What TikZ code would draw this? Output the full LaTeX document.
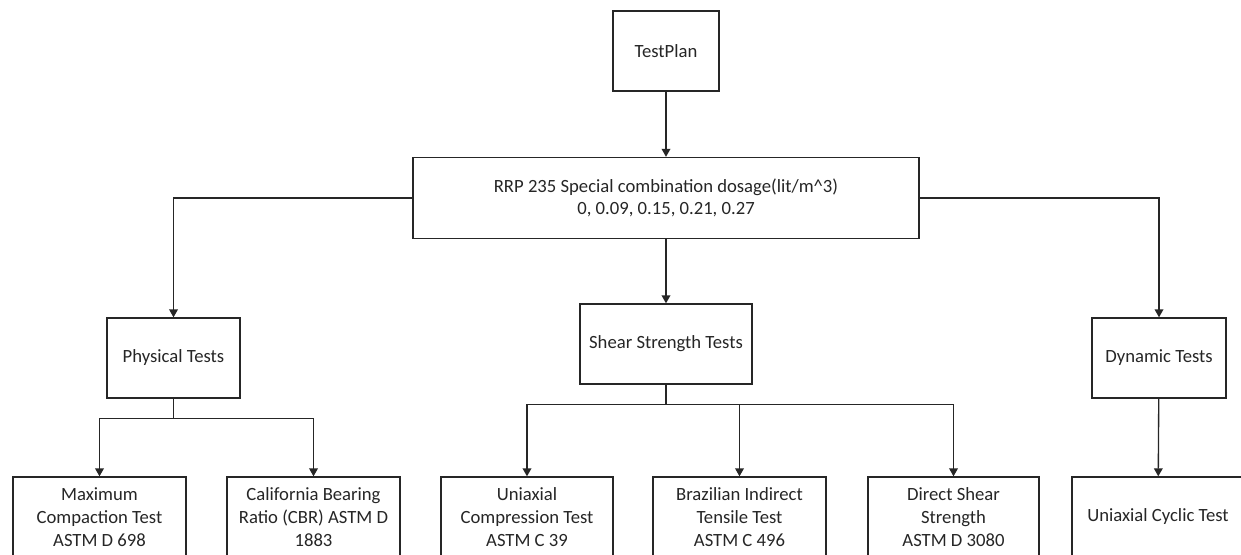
\documentclass[tikz,border=0pt]{standalone}
\usepackage{fontspec}
\setmainfont{Carlito}
\usetikzlibrary{arrows.meta}

\tikzset{
  box/.style={draw=black!85, line width=1pt, fill=white, align=center, inner sep=0pt,
    text=black!85, font=\fontsize{14}{17}\selectfont, minimum height=60pt},
  link/.style={draw=black!85, line width=1pt, -{Triangle[length=6pt,width=6.5pt]}},
  bar/.style={draw=black!85, line width=1pt},
}

\begin{document}
\begin{tikzpicture}[x=0.75pt,y=-0.75pt]
		\clip (0,0) rectangle (1241,554);
		\fill[white] (0,0) rectangle (1241,554);
		
		%Top
		\node[box, minimum width=79.5pt] (plan) at (666,51) {TestPlan};
		\node[box, minimum width=379.5pt, minimum height=60.75pt] (dose) at (666,198)
			{RRP 235 Special combination dosage(lit/m\^{}3)\\0, 0.09, 0.15, 0.21, 0.27};
		
		%Groups
		\node[box, minimum width=99.75pt] (phys) at (173.5,358) {Physical Tests};
		\node[box, minimum width=129pt] (shear) at (666,344) {Shear Strength Tests};
		\node[box, minimum width=100.5pt] (dyn) at (1159,358) {Dynamic Tests};
		
		%Tests
		\node[box, minimum width=129.75pt] (mdd) at (99.5,517) {Maximum\\Compaction Test\\ASTM D 698};
		\node[box, minimum width=129.75pt] (cbr) at (313.5,517) {California Bearing\\Ratio (CBR) ASTM D\\1883};
		\node[box, minimum width=129pt] (ucs) at (527,517) {Uniaxial\\Compression Test\\ASTM C 39};
		\node[box, minimum width=129.75pt] (bit) at (739.5,517) {Brazilian Indirect\\Tensile Test\\ASTM C 496};
		\node[box, minimum width=128.25pt] (dss) at (953.5,517) {Direct Shear\\Strength\\ASTM D 3080};
		\node[box, minimum width=129pt] (cyc) at (1158,517) {Uniaxial Cyclic Test};
		
		%Links
		\draw[link] (plan) -- (dose);
		\draw[link] (dose.west) -| (phys.north);
		\draw[link] (dose) -- (shear);
		\draw[link] (dose.east) -| (dyn.north);
		
		\draw[bar] (phys.south) -- ++(0,20) coordinate (pb);
		\draw[link] (pb) -| (mdd.north);
		\draw[link] (pb) -| (cbr.north);
		
		\draw[bar] (shear.south) -- ++(0,20) coordinate (sb);
		\draw[link] (sb) -| (ucs.north);
		\draw[link] (sb) -| (bit.north);
		\draw[link] (sb) -| (dss.north);
		
		\draw[link] (dyn) -- (cyc);
		
\end{tikzpicture}
\end{document}
